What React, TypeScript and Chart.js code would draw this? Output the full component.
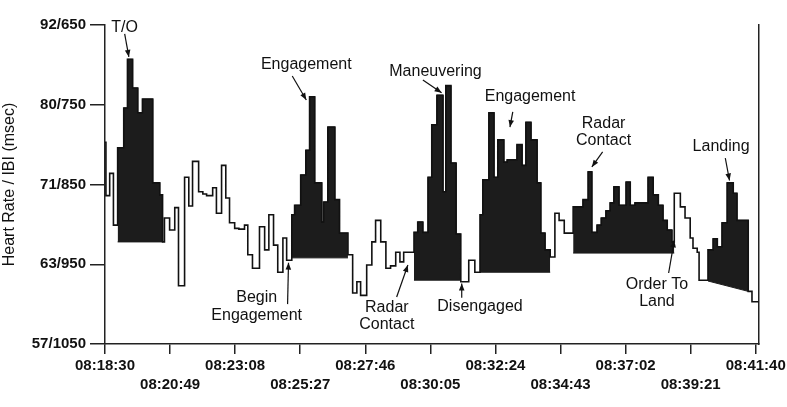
import React, { useEffect, useRef } from "react";
import { Chart, registerables } from "chart.js";

Chart.register(...registerables);

const FONT = '"Liberation Sans", Arial, Helvetica, sans-serif';
const FILL = "#1c1c1c";
const INK = "#111";

// x values are seconds elapsed since 08:18:30
const xTickSeconds = [0, 139, 278, 417, 556, 695, 834, 973, 1112, 1251, 1390];
const xTickLabels = [
  "08:18:30", "08:20:49", "08:23:08", "08:25:27", "08:27:46", "08:30:05",
  "08:32:24", "08:34:43", "08:37:02", "08:39:21", "08:41:40",
];
const xMaxSeconds = 1397;

// y axis is linear in inter-beat interval (ms); labels show HR / IBI
const yTickIbi = [650, 750, 850, 950, 1050];
const yTickLabels = ["92/650", "80/750", "71/850", "63/950", "57/1050"];

// step trace: each value holds from its start second until the next one
const stepSeconds = [
  0, 2, 10, 18,
  27, 40, 48, 59, 70, 80, 102, 117,
  123, 127, 138, 149, 157, 170, 179, 187, 200, 209, 217, 230, 238, 249,
  258, 266, 277, 286, 298, 305, 315, 330, 341, 350, 360, 369, 380, 388,
  399, 405, 418, 429, 437, 448, 463, 467, 476, 491, 501,
  519, 529, 538, 546, 559, 570, 578, 589, 600, 610, 621, 630, 638,
  660, 668, 679, 690, 698, 709, 722, 728, 739, 750,
  760, 777, 790,
  801, 807, 820, 831, 839, 852, 859, 880, 891, 899, 910, 923, 931, 940,
  951, 961, 970, 981,
  1000, 1021, 1032, 1040, 1051, 1060, 1070, 1079, 1087, 1098, 1113, 1122,
  1132, 1160, 1171, 1182, 1192, 1201, 1211,
  1216, 1229, 1239, 1250, 1256, 1265, 1269,
  1288, 1299, 1308, 1318, 1329, 1342, 1350,
  1374, 1382,
];
const stepIbi = [
  797, 864, 836, 901,
  804, 754, 693, 729, 760, 743, 848, 863,
  922, 892, 907, 879, 977, 841, 877, 821, 859, 862, 864, 854, 886, 826,
  867, 898, 905, 906, 901, 938, 955, 903, 932, 888, 926, 960, 917, 945,
  888, 876, 838, 807, 740, 848, 897, 872, 778, 869, 911,
  938, 986, 972, 989, 951, 922, 895, 922, 955, 952, 935, 947, 935,
  910, 897, 910, 841, 775, 738, 859, 726, 823, 912,
  972, 945, 960,
  888, 844, 760, 841, 794, 822, 819, 800, 826, 772, 794, 848, 911, 932,
  941, 886, 895, 911,
  878, 869, 834, 910, 901, 892, 883, 873, 853, 876, 847, 876,
  873, 841, 863, 876, 895, 907, 922,
  861, 878, 892, 917, 930, 935, 970,
  932, 918, 928, 898, 848, 861, 895,
  984, 997,
];
const traceEndSeconds = 1396;

// shaded event periods and the baseline the shading drops to
const fillStartSeconds = [27, 399, 660, 801, 1000, 1288];
const fillEndSeconds = [123, 519, 760, 951, 1216, 1374];
const baselineStartIbi = [922, 942, 970, 960, 936, 971];
const baselineEndIbi = [922, 942, 970, 960, 936, 984];

type Note = {
  lines: string[];
  at: [number, number];
  from: [number, number];
  to: [number, number];
};
const notes: Note[] = [
  { lines: ["T/O"], at: [42, 653], from: [42, 661], to: [51, 690] },
  { lines: ["Engagement"], at: [430, 700], from: [400, 714], to: [430, 744] },
  { lines: ["Maneuvering"], at: [706, 708], from: [679, 719], to: [719, 735] },
  { lines: ["Engagement"], at: [908, 740], from: [871, 759], to: [865, 778] },
  { lines: ["Radar", "Contact"], at: [1065, 784], from: [1063, 809], to: [1040, 828] },
  { lines: ["Landing"], at: [1316, 803], from: [1325, 817], to: [1334, 845] },
  { lines: ["Begin", "Engagement"], at: [324, 1003], from: [390, 1000], to: [392, 948] },
  { lines: ["Radar", "Contact"], at: [602, 1015], from: [623, 991], to: [647, 951] },
  { lines: ["Disengaged"], at: [801, 1003], from: [762, 992], to: [762, 974] },
  { lines: ["Order To", "Land"], at: [1179, 986], from: [1204, 961], to: [1216, 920] },
];

const notePlugin = {
  id: "eventNotes",
  afterDraw(chart: any) {
    const { ctx } = chart;
    const xs = chart.scales.x;
    const ys = chart.scales.y;
    ctx.save();
    ctx.font = `16px ${FONT}`;
    ctx.fillStyle = INK;
    ctx.strokeStyle = INK;
    ctx.textAlign = "center";
    ctx.textBaseline = "middle";
    const lh = 17.5;
    for (const n of notes) {
      const cx = xs.getPixelForValue(n.at[0]);
      const cy = ys.getPixelForValue(n.at[1]);
      const k = n.lines.length;
      n.lines.forEach((s, i) => ctx.fillText(s, cx, cy + (i - (k - 1) / 2) * lh));
      const x1 = xs.getPixelForValue(n.from[0]);
      const y1 = ys.getPixelForValue(n.from[1]);
      const x2 = xs.getPixelForValue(n.to[0]);
      const y2 = ys.getPixelForValue(n.to[1]);
      ctx.lineWidth = 1.2;
      ctx.beginPath();
      ctx.moveTo(x1, y1);
      ctx.lineTo(x2, y2);
      ctx.stroke();
      const a = Math.atan2(y2 - y1, x2 - x1);
      const L = 7, W = 2.8;
      const c = Math.cos(a), s = Math.sin(a);
      ctx.beginPath();
      ctx.moveTo(x2, y2);
      ctx.lineTo(x2 - L * c + W * s, y2 - L * s - W * c);
      ctx.lineTo(x2 - L * c - W * s, y2 - L * s + W * c);
      ctx.closePath();
      ctx.fill();
    }
    ctx.restore();
  },
};

export default function App() {
  const ref = useRef<HTMLCanvasElement | null>(null);

  useEffect(() => {
    if (!ref.current) return;
    const trace = stepSeconds.map((s, i) => ({ x: s, y: stepIbi[i] }));
    trace.push({ x: traceEndSeconds, y: stepIbi[stepIbi.length - 1] });

    const datasets: any[] = [
      {
        data: trace,
        stepped: "before",
        borderColor: INK,
        borderWidth: 1.6,
        pointRadius: 0,
        fill: false,
      },
    ];

    fillStartSeconds.forEach((s0, k) => {
      const s1 = fillEndSeconds[k];
      const pts: { x: number; y: number }[] = [];
      stepSeconds.forEach((s, i) => {
        if (s >= s0 && s < s1) pts.push({ x: s, y: stepIbi[i] });
      });
      pts.push({ x: s1, y: pts[pts.length - 1].y });
      const baseIndex = datasets.length;
      datasets.push({
        data: [
          { x: s0, y: baselineStartIbi[k] },
          { x: s1, y: baselineEndIbi[k] },
        ],
        borderColor: FILL,
        borderWidth: 1,
        pointRadius: 0,
        fill: false,
      });
      datasets.push({
        data: pts,
        stepped: "before",
        borderColor: FILL,
        borderWidth: 1,
        pointRadius: 0,
        backgroundColor: FILL,
        fill: baseIndex,
      });
    });

    const tickFont = { family: FONT, size: 15, weight: "bold" as const };

    const chart = new Chart(ref.current, {
      type: "line",
      data: { datasets },
      plugins: [notePlugin],
      options: {
        animation: false,
        responsive: true,
        maintainAspectRatio: false,
        events: [],
        layout: { padding: { top: 25, left: 0, right: 0, bottom: 0 } },
        plugins: { legend: { display: false }, tooltip: { enabled: false } },
        scales: {
          x: {
            type: "linear",
            min: 0,
            max: xMaxSeconds,
            afterBuildTicks: (s: any) => {
              s.ticks = xTickSeconds.map((v) => ({ value: v }));
            },
            afterFit: (s: any) => {
              s.height = 63;
              s.paddingLeft = 0;
              s.paddingRight = 0;
            },
            ticks: {
              autoSkip: false,
              maxRotation: 0,
              minRotation: 0,
              padding: 2,
              color: INK,
              font: { ...tickFont, lineHeight: 1.27 },
              callback: (_v: any, i: number) =>
                i % 2 === 0 ? [xTickLabels[i], ""] : ["", xTickLabels[i]],
            },
            grid: {
              drawOnChartArea: false,
              drawTicks: true,
              tickLength: 10,
              color: "#222",
              lineWidth: 1.5,
            },
            border: { display: true, color: "#222", width: 1.5 },
          },
          y: {
            type: "linear",
            position: "left",
            reverse: true,
            min: 650,
            max: 1050,
            afterBuildTicks: (s: any) => {
              s.ticks = yTickIbi.map((v) => ({ value: v }));
            },
            afterFit: (s: any) => {
              s.width = 105;
            },
            ticks: {
              padding: 4,
              color: INK,
              font: tickFont,
              callback: (_v: any, i: number) => yTickLabels[i],
            },
            grid: {
              drawOnChartArea: false,
              drawTicks: true,
              tickLength: 15,
              color: "#222",
              lineWidth: 1.5,
            },
            border: { display: true, color: "#222", width: 1.5 },
            title: {
              display: true,
              text: "Heart Rate / IBI (msec)",
              color: INK,
              font: { family: FONT, size: 16 },
              padding: { top: 0, bottom: 0 },
            },
          },
          y2: {
            type: "linear",
            position: "right",
            min: 0,
            max: 1,
            afterFit: (s: any) => {
              s.width = 28;
            },
            ticks: { display: false },
            grid: { drawOnChartArea: false, drawTicks: false },
            border: { display: true, color: "#222", width: 1.5 },
          },
        },
      } as any,
    });
    return () => chart.destroy();
  }, []);

  return (
    <div
      style={{
        position: "fixed",
        left: 0,
        top: 0,
        width: 787,
        height: 407,
        background: "#fff",
      }}
    >
      <canvas ref={ref} />
    </div>
  );
}
